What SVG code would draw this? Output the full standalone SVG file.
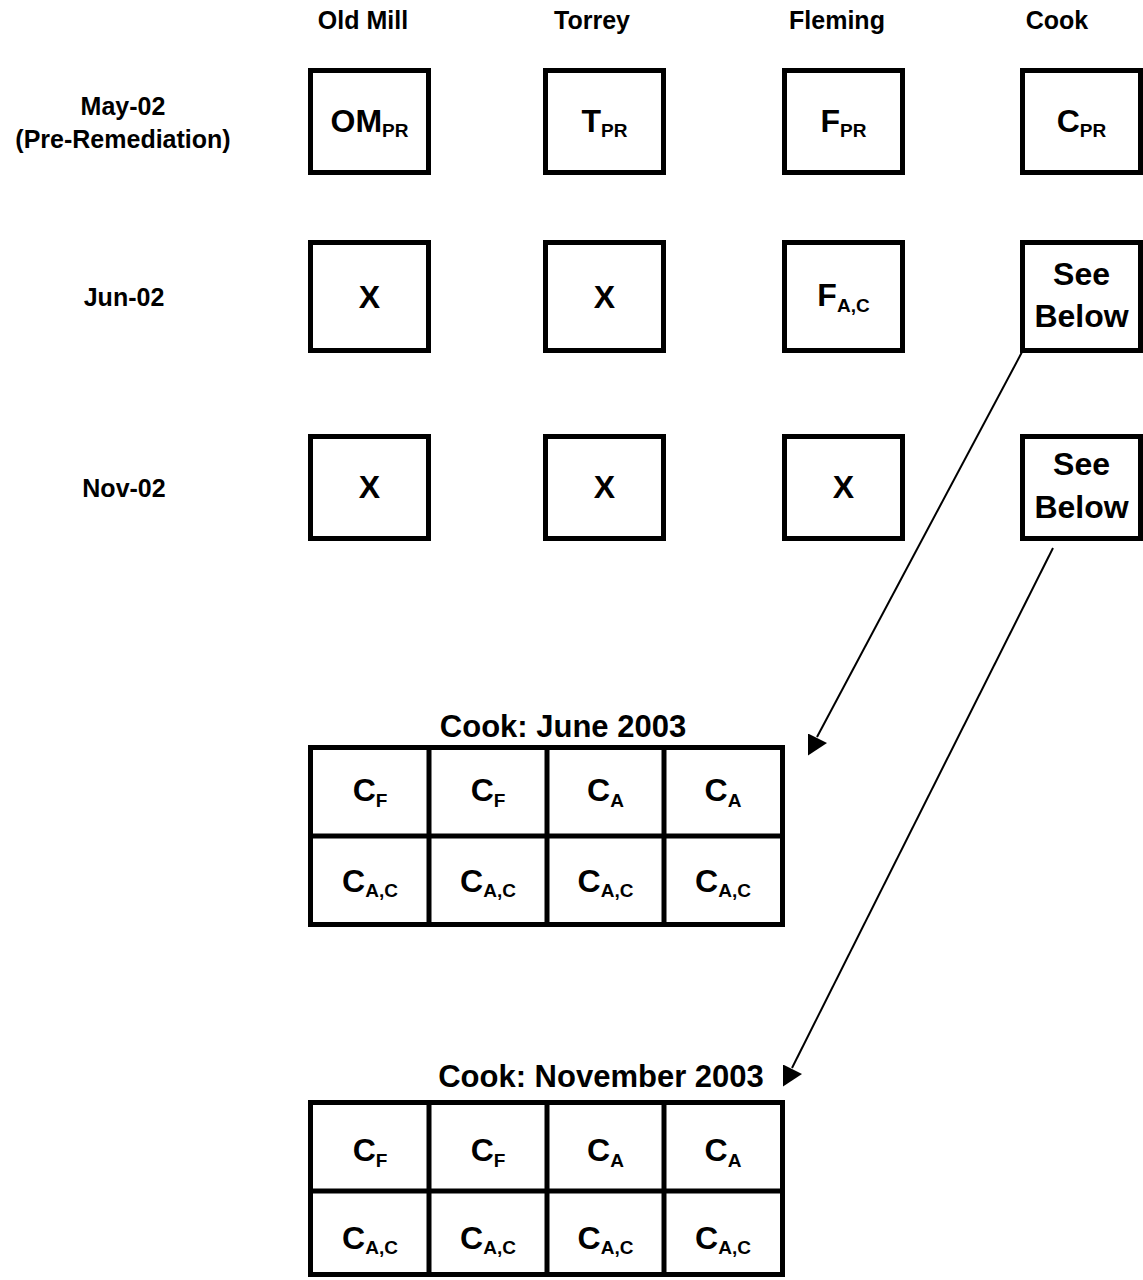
<svg xmlns="http://www.w3.org/2000/svg" width="1143" height="1280" viewBox="0 0 1143 1280">
<defs>
<style>
text{font-family:"Liberation Sans",Arial,sans-serif;font-weight:bold;fill:#000;text-anchor:middle}
.hd{font-size:25px}
.bx{font-size:32px}
.sub{font-size:19px}
.ttl{font-size:31px}
.box{fill:#fff;stroke:#000;stroke-width:5}
.grid{fill:none;stroke:#000;stroke-width:5}
.conn{fill:none;stroke:#000;stroke-width:2}
</style>
<marker id="ah" viewBox="0 0 19 22" refX="9" refY="3.5" markerWidth="19" markerHeight="22" markerUnits="userSpaceOnUse" orient="0">
<path d="M0,0 L0,22 L19,9.5 Z" fill="#000"/>
</marker>
</defs>
<rect width="1143" height="1280" fill="#fff"/>

<g id="headers">
<text class="hd" x="363" y="29">Old Mill</text>
<text class="hd" x="592" y="29">Torrey</text>
<text class="hd" x="837" y="29">Fleming</text>
<text class="hd" x="1057" y="29">Cook</text>
</g>
<g id="row-labels">
<text class="hd" x="123" y="115">May-02</text>
<text class="hd" x="123" y="148">(Pre-Remediation)</text>
<text class="hd" x="124" y="306">Jun-02</text>
<text class="hd" x="124" y="497">Nov-02</text>
</g>

<g id="om-may"><rect class="box" x="310.5" y="70.5" width="118" height="102"/><text class="bx" x="369.5" y="132">OM<tspan class="sub" dy="5">PR</tspan></text></g>
<g id="t-may"><rect class="box" x="545.5" y="70.5" width="118" height="102"/><text class="bx" x="604.5" y="132">T<tspan class="sub" dy="5">PR</tspan></text></g>
<g id="f-may"><rect class="box" x="784.5" y="70.5" width="118" height="102"/><text class="bx" x="843.5" y="132">F<tspan class="sub" dy="5">PR</tspan></text></g>
<g id="c-may"><rect class="box" x="1022.5" y="70.5" width="118" height="102"/><text class="bx" x="1081.5" y="132">C<tspan class="sub" dy="5">PR</tspan></text></g>

<g id="om-jun"><rect class="box" x="310.5" y="242.5" width="118" height="108"/><text class="bx" x="369.5" y="308">X</text></g>
<g id="t-jun"><rect class="box" x="545.5" y="242.5" width="118" height="108"/><text class="bx" x="604.5" y="308">X</text></g>
<g id="f-jun"><rect class="box" x="784.5" y="242.5" width="118" height="108"/><text class="bx" x="843.5" y="306">F<tspan class="sub" dy="6">A,C</tspan></text></g>
<g id="c-jun"><rect class="box" x="1022.5" y="242.5" width="118" height="108"/><text class="bx" x="1081.5" y="285">See</text><text class="bx" x="1081.5" y="327">Below</text></g>

<g id="om-nov"><rect class="box" x="310.5" y="436.5" width="118" height="102"/><text class="bx" x="369.5" y="498">X</text></g>
<g id="t-nov"><rect class="box" x="545.5" y="436.5" width="118" height="102"/><text class="bx" x="604.5" y="498">X</text></g>
<g id="f-nov"><rect class="box" x="784.5" y="436.5" width="118" height="102"/><text class="bx" x="843.5" y="498">X</text></g>
<g id="c-nov"><rect class="box" x="1022.5" y="436.5" width="118" height="102"/><text class="bx" x="1081.5" y="475">See</text><text class="bx" x="1081.5" y="518">Below</text></g>

<g id="cook-june-2003">
<text class="ttl" x="563" y="737">Cook: June 2003</text>
<rect class="grid" x="310.5" y="747.5" width="472" height="177"/>
<path class="grid" d="M429,747.5V924.5M547,747.5V924.5M664,747.5V924.5M310.5,836H782.5"/>
<text class="bx" x="370" y="801">C<tspan class="sub" dy="6">F</tspan></text>
<text class="bx" x="488" y="801">C<tspan class="sub" dy="6">F</tspan></text>
<text class="bx" x="605.5" y="801">C<tspan class="sub" dy="6">A</tspan></text>
<text class="bx" x="723" y="801">C<tspan class="sub" dy="6">A</tspan></text>
<text class="bx" x="370" y="892">C<tspan class="sub" dy="5">A,C</tspan></text>
<text class="bx" x="488" y="892">C<tspan class="sub" dy="5">A,C</tspan></text>
<text class="bx" x="605.5" y="892">C<tspan class="sub" dy="5">A,C</tspan></text>
<text class="bx" x="723" y="892">C<tspan class="sub" dy="5">A,C</tspan></text>
</g>

<g id="cook-november-2003">
<text class="ttl" x="601" y="1087">Cook: November 2003</text>
<rect class="grid" x="310.5" y="1102.5" width="472" height="172"/>
<path class="grid" d="M429,1102.5V1274.5M547,1102.5V1274.5M664,1102.5V1274.5M310.5,1191H782.5"/>
<text class="bx" x="370" y="1161">C<tspan class="sub" dy="6">F</tspan></text>
<text class="bx" x="488" y="1161">C<tspan class="sub" dy="6">F</tspan></text>
<text class="bx" x="605.5" y="1161">C<tspan class="sub" dy="6">A</tspan></text>
<text class="bx" x="723" y="1161">C<tspan class="sub" dy="6">A</tspan></text>
<text class="bx" x="370" y="1249">C<tspan class="sub" dy="5">A,C</tspan></text>
<text class="bx" x="488" y="1249">C<tspan class="sub" dy="5">A,C</tspan></text>
<text class="bx" x="605.5" y="1249">C<tspan class="sub" dy="5">A,C</tspan></text>
<text class="bx" x="723" y="1249">C<tspan class="sub" dy="5">A,C</tspan></text>
</g>

<g id="connectors">
<line class="conn" x1="1022" y1="352" x2="817" y2="737" marker-end="url(#ah)"/>
<line class="conn" x1="1053" y1="548" x2="792" y2="1068" marker-end="url(#ah)"/>
</g>
</svg>
